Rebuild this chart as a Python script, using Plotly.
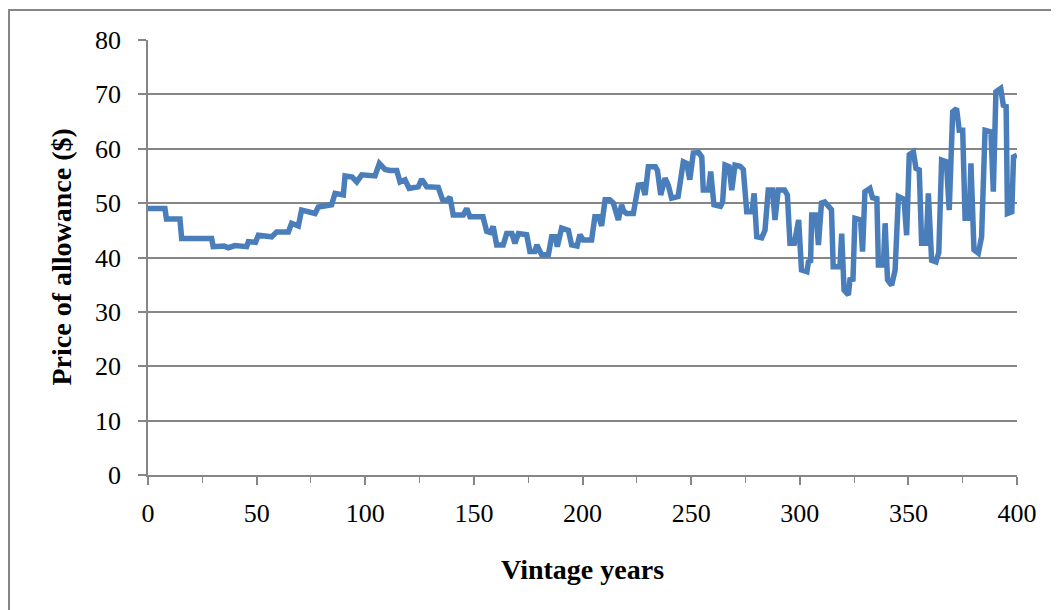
import plotly.graph_objects as go

# Vertices of the price line (vintage year, price in $)
vintage_years = [
    0, 7.8, 8.5, 14.7, 15.5, 20, 22, 25, 29.3, 30, 35, 37, 40, 45.4, 46.2, 48.5, 49.5,
    50.8, 56.9, 59.2, 64.6, 66.1, 69.2, 70.7, 76.9, 78.4, 84.5, 86.1, 89.9, 90.7, 94,
    96.1, 98.4, 104.5, 106.5, 109.1, 111.4, 114.5, 116, 118.3, 120.2, 124.4, 126, 128.3,
    133.6, 135.6, 137.5, 139, 140.5, 145.1, 146.7, 148.2, 154.2, 155.9, 157.5, 158.9,
    160.5, 163.5, 165.1, 167.5, 168.9, 170.5, 174.3, 175.8, 178, 179, 181.2, 184.3,
    185.8, 187.5, 188.4, 190.4, 193.5, 195, 197.5, 198.8, 200.4, 204.2, 205.7, 207.5,
    208.8, 210.4, 212.5, 214.2, 216.5, 218, 219, 220.3, 223.4, 225.7, 227.5, 228.8,
    230.3, 233.5, 234.5, 236, 238, 239.5, 241, 244, 246.4, 248, 249.4, 251, 253.5,
    254.9, 255.6, 258, 259, 260.5, 263.5, 264.5, 265.6, 267.5, 268.7, 270.2, 272.5,
    274, 275.6, 278, 279, 280.2, 282.5, 284, 285.5, 287.5, 288.6, 290.1, 293, 294.3,
    295.5, 297.5, 299.5, 300.8, 303.3, 304, 305, 305.5, 307.5, 308.6, 310, 311.5, 313,
    314.6, 315.4, 318.5, 319.3, 320.4, 322.4, 323.1, 324.5, 325.4, 328, 328.9, 330,
    332.3, 333.5, 335.5, 336.2, 338.5, 339.3, 340.4, 342.3, 343.9, 345.4, 347, 348,
    349.2, 350.4, 352.3, 353.5, 355, 356.1, 358.2, 359.2, 360.7, 362.7, 364, 365.3,
    367.5, 368.8, 370.4, 372.2, 373.4, 375, 376.1, 378, 378.8, 380.2, 382.2, 383.7,
    385.3, 388, 389.1, 390.3, 392.5, 393.7, 395, 395.6, 397.6, 398.4, 400,
]
prices = [
    49.0, 49.0, 47.1, 47.1, 43.5, 43.4, 43.6, 43.5, 43.5, 42.0, 42.1, 41.8, 42.2, 42.0,
    42.9, 42.7, 42.8, 44.1, 43.8, 44.7, 44.7, 46.3, 45.8, 48.7, 48.1, 49.3, 49.7, 51.8,
    51.5, 55.0, 54.8, 53.9, 55.2, 55.0, 57.3, 56.2, 56.0, 56.0, 53.9, 54.3, 52.7, 53.0,
    54.4, 53.0, 52.9, 50.6, 50.5, 51.1, 47.8, 47.8, 49.0, 47.5, 47.5, 44.8, 44.6, 45.7,
    42.3, 42.3, 44.4, 44.4, 42.6, 44.4, 44.2, 41.1, 41.1, 42.3, 40.5, 40.5, 43.8, 43.8,
    42.0, 45.4, 45.0, 42.3, 42.1, 44.2, 43.2, 43.2, 47.5, 47.5, 45.8, 50.6, 50.6, 50.0,
    46.9, 49.7, 48.5, 48.1, 48.1, 53.3, 53.4, 51.5, 56.7, 56.7, 56.0, 51.5, 54.6, 53.3,
    50.9, 51.2, 57.6, 57.3, 54.3, 59.2, 59.3, 58.5, 52.4, 52.4, 55.8, 49.7, 49.4, 50.2,
    57.0, 56.7, 52.4, 57.0, 56.8, 56.2, 48.4, 48.4, 51.8, 43.8, 43.6, 45.0, 52.4, 52.4,
    46.9, 52.4, 52.4, 51.5, 42.6, 42.6, 46.9, 37.7, 37.4, 39.2, 39.4, 47.8, 47.8, 42.3,
    50.0, 50.2, 49.4, 48.8, 38.3, 38.3, 44.4, 34.0, 33.1, 35.9, 36.0, 47.2, 46.9, 41.1,
    52.1, 52.7, 51.0, 50.8, 38.6, 38.6, 46.3, 35.9, 34.9, 37.7, 51.2, 51.0, 50.7, 44.1,
    58.9, 59.4, 56.4, 56.1, 42.6, 42.6, 51.8, 39.5, 39.2, 40.9, 57.9, 57.6, 48.7, 66.8,
    67.4, 63.4, 63.4, 47.2, 47.2, 57.3, 41.4, 40.8, 43.8, 63.4, 63.1, 52.1, 70.5, 71.1,
    68.0, 67.8, 48.1, 48.4, 58.5, 58.8,
]

x_tick_values = [0, 50, 100, 150, 200, 250, 300, 350, 400]
y_tick_values = [0, 10, 20, 30, 40, 50, 60, 70, 80]

GRAY = "#868686"
BLUE = "#4a7ebb"
FONT = "Liberation Serif"

fig = go.Figure()
fig.add_trace(go.Scatter(
    x=vintage_years, y=prices, mode="lines",
    line=dict(color=BLUE, width=5.5), showlegend=False, hoverinfo="skip",
))

# page body adds an 8px offset; compensate so the plot lands where the reference has it
OFF = 8
W, H = 1059 - OFF, 610 - OFF
L, R, T, B = 148 - OFF, 42, 40 - OFF, 135
pw, ph = W - L - R, H - T - B

def px_to_paper_x(px):
    return (px - OFF - L) / pw

def px_to_paper_y(py):
    return (H - B - (py - OFF)) / ph

fig.update_layout(
    width=W, height=H,
    margin=dict(l=L, r=R, t=T, b=B, pad=0),
    paper_bgcolor="white", plot_bgcolor="white",
    font=dict(family=FONT, size=26, color="black"),
    xaxis=dict(
        range=[0, 400], tickvals=x_tick_values, showgrid=False, zeroline=False,
        showline=True, linecolor=GRAY, linewidth=1.5,
        ticks="outside", ticklen=8, tickwidth=1.5, tickcolor=GRAY,
        minor=dict(ticks="outside", dtick=25, tick0=0, ticklen=6, tickwidth=1.2,
                   tickcolor=GRAY, showgrid=False),
        tickfont=dict(family=FONT, size=26),
        ticklabelstandoff=6,
    ),
    yaxis=dict(
        range=[0, 80], tickvals=y_tick_values, showgrid=True, gridcolor=GRAY,
        gridwidth=1.5, zeroline=False,
        showline=True, linecolor=GRAY, linewidth=1.5,
        ticks="outside", ticklen=8, tickwidth=1.5, tickcolor=GRAY,
        tickfont=dict(family=FONT, size=26),
        ticklabelstandoff=12,
    ),
    shapes=[dict(
        type="rect", xref="paper", yref="paper",
        x0=px_to_paper_x(9), x1=px_to_paper_x(1090),
        y0=px_to_paper_y(640), y1=px_to_paper_y(10),
        line=dict(color=GRAY, width=2), fillcolor="rgba(0,0,0,0)", layer="below",
    )],
    annotations=[
        dict(text="<b>Vintage years</b>", xref="paper", yref="paper",
             x=0.5, y=px_to_paper_y(569), xanchor="center", yanchor="middle",
             showarrow=False, font=dict(family=FONT, size=28, color="black")),
        dict(text="<b>Price of allowance ($)</b>", xref="paper", yref="paper",
             x=px_to_paper_x(61), y=0.5, xanchor="center", yanchor="middle",
             textangle=-90, showarrow=False,
             font=dict(family=FONT, size=28, color="black")),
    ],
)

fig.write_html("out.html")
